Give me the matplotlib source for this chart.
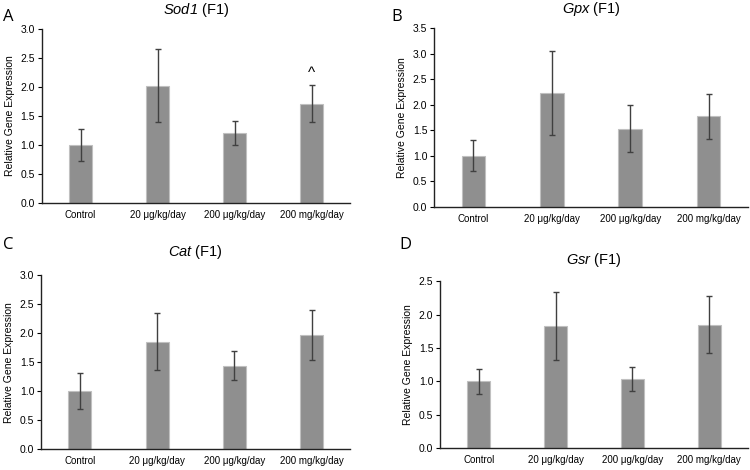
import numpy as np
import matplotlib.pyplot as plt

plt.rcParams['font.family'] = ['Liberation Sans', 'DejaVu Sans']
# only the gene names are mathtext, so both math fonts can be italic
plt.rcParams['mathtext.fontset'] = 'custom'
plt.rcParams['mathtext.it'] = 'Liberation Sans:italic'
plt.rcParams['mathtext.rm'] = 'Liberation Sans:italic'

groups = ['Control', '20 μg/kg/day', '200 μg/kg/day', '200 mg/kg/day']

sod1_mean = [1.00, 2.02, 1.21, 1.71]
sod1_err = [0.28, 0.63, 0.21, 0.32]
gpx_mean = [1.00, 2.23, 1.53, 1.77]
gpx_err = [0.30, 0.82, 0.46, 0.45]
cat_mean = [1.00, 1.85, 1.44, 1.97]
cat_err = [0.31, 0.49, 0.25, 0.43]
gsr_mean = [1.00, 1.83, 1.04, 1.85]
gsr_err = [0.19, 0.51, 0.18, 0.43]

panels = [
    # letter, gene, means, errs, ymax, axes rect, letter pos, title pad
    ('A', 'Sod1', sod1_mean, sod1_err, 3.0, [0.056, 0.568, 0.411, 0.370], (0.004, 0.955), 11),
    ('B', 'Gpx', gpx_mean, gpx_err, 3.5, [0.579, 0.560, 0.418, 0.380], (0.522, 0.955), 11),
    ('C', 'Cat', cat_mean, cat_err, 3.0, [0.055, 0.044, 0.412, 0.371], (0.004, 0.47), 14),
    ('D', 'Gsr', gsr_mean, gsr_err, 2.5, [0.587, 0.046, 0.410, 0.356], (0.532, 0.47), 12),
]

fig = plt.figure(figsize=(7.5, 4.7), dpi=100)

for letter, gene, means, errs, ymax, rect, lpos, tpad in panels:
    ax = fig.add_axes(rect)
    x = np.arange(len(groups))
    ax.bar(x, means, width=0.3, color='#8f8f8f', edgecolor='#c0c0c0', linewidth=0.8)
    ax.errorbar(x, means, yerr=errs, fmt='none', ecolor='#404040',
                elinewidth=1.0, capsize=2.5, capthick=1.0)
    ax.set_xlim(-0.5, len(groups) - 0.5)
    ax.set_ylim(0, ymax)
    yt = np.arange(0, ymax + 0.01, 0.5)
    ax.set_yticks(yt)
    ax.set_yticklabels([f'{v:.1f}' for v in yt])
    ax.set_xticks(x)
    ax.set_xticklabels(groups)
    ax.tick_params(axis='x', length=0, labelsize=7, pad=5)
    ax.tick_params(axis='y', length=3, width=0.8, labelsize=7.5, pad=2)
    for side in ('top', 'right'):
        ax.spines[side].set_visible(False)
    for side in ('left', 'bottom'):
        ax.spines[side].set_linewidth(1.0)
        ax.spines[side].set_color('#222222')
    ax.set_ylabel('Relative Gene Expression', fontsize=7.5, labelpad=4)
    ax.set_title(f'$\\mathit{{{gene}}}$ (F1)', fontsize=10.5, pad=tpad)
    fig.text(lpos[0], lpos[1], letter, fontsize=12, family=['Open Sans', 'DejaVu Sans'])
    if gene == 'Sod1':
        ax.text(3, 2.25, '^', ha='center', va='center', fontsize=11)

fig.savefig('out.png', dpi=100)
